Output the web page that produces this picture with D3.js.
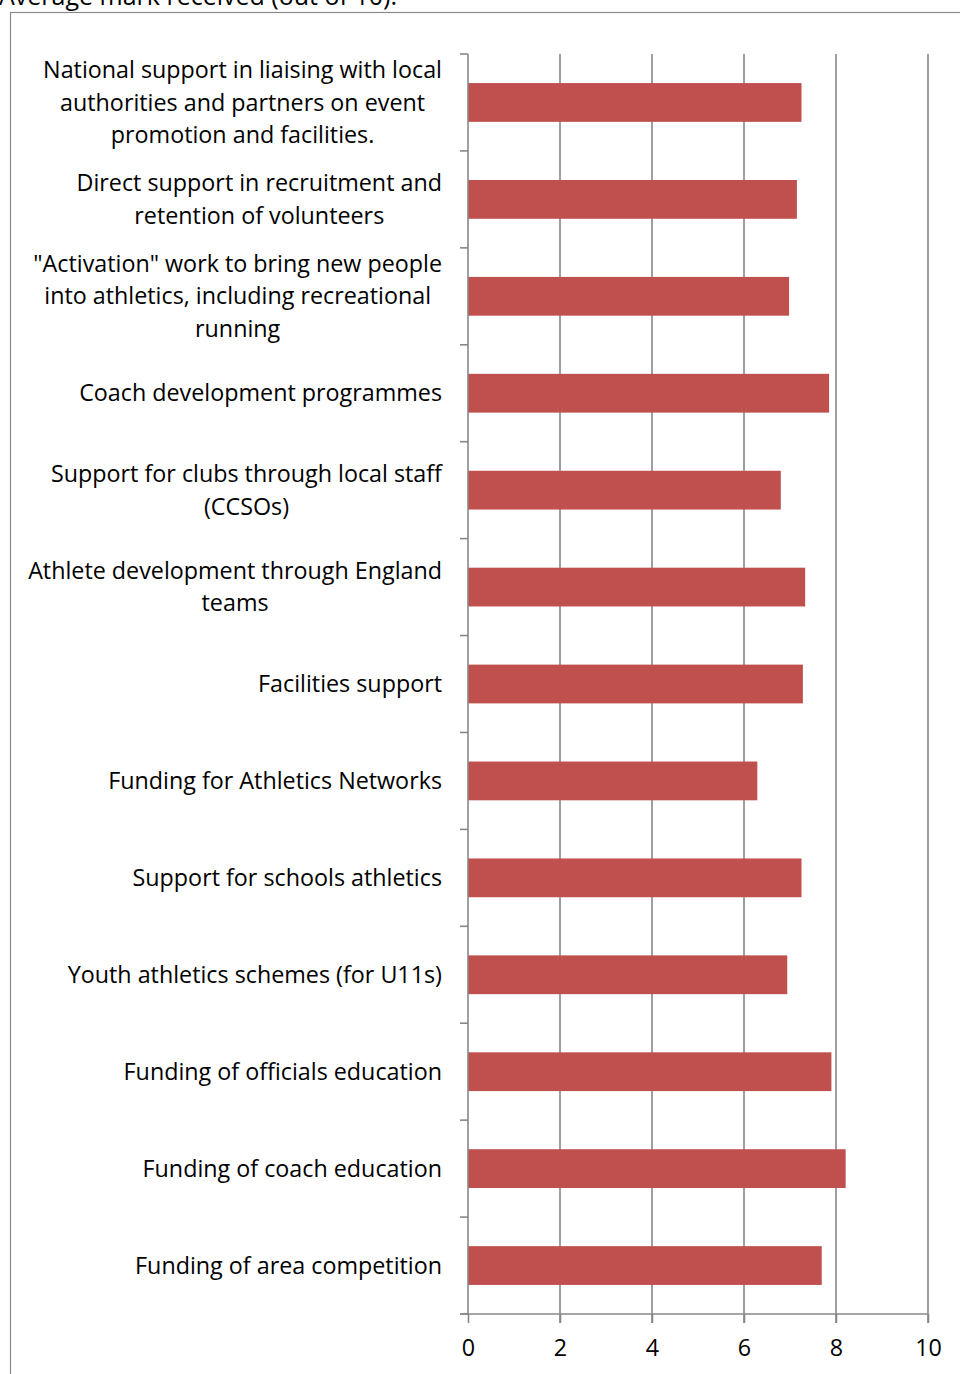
<!DOCTYPE html>
<html lang="en">
<head>
    <meta charset="UTF-8">
    <title>Average mark received</title>
    <script src="https://d3js.org/d3.v7.min.js"></script>
    <style>
        body { margin: 0; background: #fff; }
        text { font-family: "Open Sans", sans-serif; fill: #000; }
    </style>
</head>
<body>
<div id="chart"></div>
<script>

    // category labels, already split into lines as in the picture
    var labels = [
        ["National support in liaising with local", "authorities and partners on event", "promotion and facilities."],
        ["Direct support in recruitment and", "retention of volunteers"],
        ["\"Activation\" work to bring new people", "into athletics, including recreational", "running"],
        ["Coach development programmes"],
        ["Support for clubs through local staff", "(CCSOs)"],
        ["Athlete development through England", "teams"],
        ["Facilities support"],
        ["Funding for Athletics Networks"],
        ["Support for schools athletics"],
        ["Youth athletics schemes (for U11s)"],
        ["Funding of officials education"],
        ["Funding of coach education"],
        ["Funding of area competition"]
    ];

    var marks = [7.25, 7.15, 6.98, 7.85, 6.8, 7.33, 7.28, 6.29, 7.25, 6.94, 7.9, 8.21, 7.69];

    var xTicks = [0, 2, 4, 6, 8, 10];

    var title = "Average mark received (out of 10).";

    var W = 960, H = 1374;
    var margin = {top: 54, left: 468, right: 32, bottom: 60};
    var width = W - margin.left - margin.right,
        height = H - margin.top - margin.bottom;

    var fontSize = 23.3;

    var svg = d3.select("#chart")
        .append("svg")
        .attr("width", W)
        .attr("height", H);

    // title cut off at the top, and the frame
    svg.append("text")
        .attr("x", -1)
        .attr("y", 5)
        .style("font-size", "25px")
        .text(title);

    svg.append("rect")
        .attr("x", 10.5)
        .attr("y", 12.5)
        .attr("width", 980)
        .attr("height", 1400)
        .attr("fill", "none")
        .attr("stroke", "#8a8a8a")
        .attr("stroke-width", 1.2);

    var g = svg.append("g")
        .attr("transform", "translate(" + margin.left + "," + margin.top + ")");

    var x = d3.scaleLinear().domain([0, 10]).range([0, width]);
    var y = d3.scaleBand()
        .domain(d3.range(labels.length))
        .range([0, height])
        .paddingInner(0.6)
        .paddingOuter(0.3);

    var gridColor = "#878787";

    // vertical gridlines (with tick below the axis)
    g.selectAll(".grid")
        .data(xTicks.slice(1))
        .enter().append("line")
        .attr("x1", function (d) { return x(d); })
        .attr("x2", function (d) { return x(d); })
        .attr("y1", 0)
        .attr("y2", height + 9)
        .attr("stroke", gridColor)
        .attr("stroke-width", 1.6);

    // bars
    g.selectAll(".bar")
        .data(marks)
        .enter().append("rect")
        .attr("x", x(0))
        .attr("y", function (d, i) { return y(i); })
        .attr("width", function (d) { return x(d) - x(0); })
        .attr("height", y.bandwidth())
        .attr("fill", "#C0504D");

    // x axis
    var xAxis = g.append("g")
        .attr("transform", "translate(0," + height + ")")
        .call(d3.axisBottom(x).tickValues(xTicks).tickSize(9).tickPadding(16).tickFormat(d3.format("d")));
    xAxis.select(".domain").remove();
    xAxis.selectAll("line").attr("stroke", gridColor).attr("stroke-width", 1.6);
    xAxis.selectAll("text").style("font-size", fontSize + "px").style("font-family", "'Open Sans', sans-serif");
    xAxis.append("line")
        .attr("x1", -8).attr("x2", x(10))
        .attr("stroke", gridColor).attr("stroke-width", 1.6);

    // y axis line and ticks between categories
    var bounds = d3.range(labels.length + 1).map(function (i) { return i * height / labels.length; });
    g.append("line")
        .attr("x1", 0).attr("x2", 0)
        .attr("y1", 0).attr("y2", height)
        .attr("stroke", gridColor).attr("stroke-width", 1.6);
    g.selectAll(".ytick")
        .data(bounds)
        .enter().append("line")
        .attr("x1", -8).attr("x2", 0)
        .attr("y1", function (d) { return d; })
        .attr("y2", function (d) { return d; })
        .attr("stroke", gridColor).attr("stroke-width", 1.6);

    // category labels: block right-aligned, lines centred in block
    var lineH = 32.5;
    var labelRight = -26;
    labels.forEach(function (lines, i) {
        var cy = y(i) + y.bandwidth() / 2;
        var t = g.append("text")
            .attr("text-anchor", "middle")
            .style("font-size", fontSize + "px");
        lines.forEach(function (s, k) {
            t.append("tspan")
                .attr("x", 0)
                .attr("y", cy + (k - (lines.length - 1) / 2) * lineH)
                .attr("dy", "0.35em")
                .text(s);
        });
        var maxW = d3.max(t.selectAll("tspan").nodes(), function (n) { return n.getComputedTextLength(); });
        t.selectAll("tspan").attr("x", labelRight - maxW / 2);
    });

</script>
</body>
</html>
